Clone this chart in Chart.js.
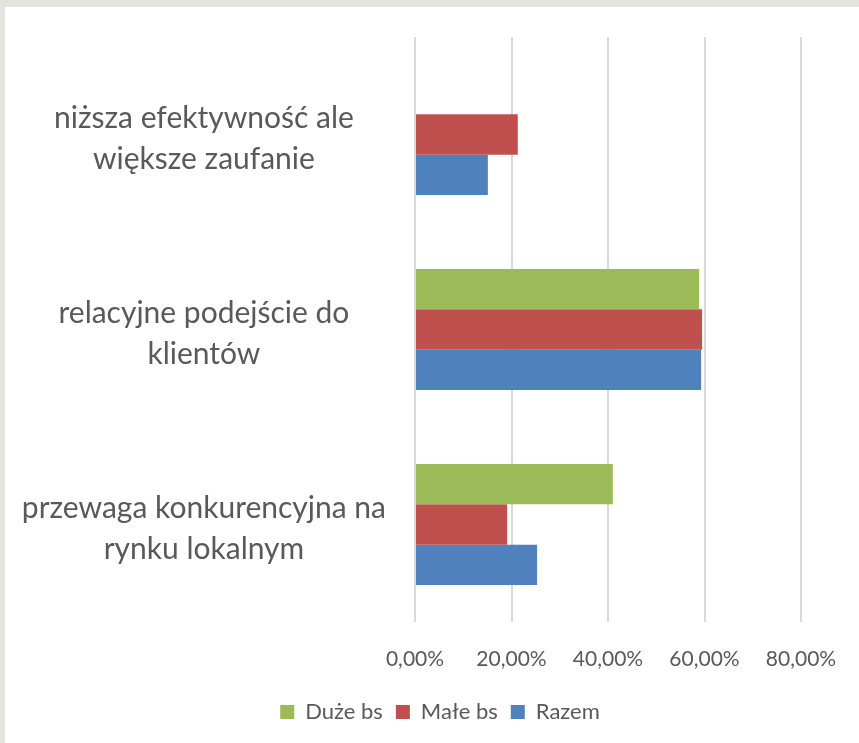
<!DOCTYPE html>
<html>
<head>
<meta charset="utf-8">
<script src="https://cdn.jsdelivr.net/npm/chart.js@4"></script>
<style>
  body { margin: 0; background: #e3e5dc; }
  #wrap { position: absolute; left: 5px; top: 7px; width: 854px; height: 736px; background: #fff; }
</style>
</head>
<body>
<div id="wrap"><canvas id="chart"></canvas></div>
<script>
const categories = [
    ['niższa efektywność ale', 'większe zaufanie'],
    ['relacyjne podejście do', 'klientów'],
    ['przewaga konkurencyjna na', 'rynku lokalnym']
];
const seriesNames = ['Duże bs', 'Małe bs', 'Razem'];
const duzeBs = [0, 58.9, 41.0];
const maleBs = [21.3, 59.5, 19.1];
const razem = [15.1, 59.3, 25.3];
const xTicks = [0, 20, 40, 60, 80];

const colors = ['#9bbb59', '#c0504d', '#4f81bd'];
const textColor = '#595959';

// nudge the legend so it sits where the original one does
const legendShift = {
    id: 'legendShift',
    afterLayout(chart) {
        chart.legend.left += 32;
        chart.legend.right += 32;
    }
};

new Chart(document.getElementById('chart').getContext('2d'), {
    type: 'bar',
    data: {
        labels: categories,
        datasets: [duzeBs, maleBs, razem].map((values, i) => ({
            label: seriesNames[i],
            data: values,
            backgroundColor: colors[i],
            borderWidth: 0,
            barPercentage: 1,
            categoryPercentage: 0.62
        }))
    },
    options: {
        indexAxis: 'y',
        responsive: true,
        maintainAspectRatio: false,
        animation: false,
        layout: { padding: { left: 10, right: 58, top: 30, bottom: 10 } },
        scales: {
            x: {
                min: 0,
                max: 80,
                afterBuildTicks: axis => { axis.ticks = xTicks.map(v => ({ value: v })); },
                afterFit: axis => {
                    axis.height = 66;
                    axis.paddingLeft = 0;
                    axis.paddingRight = 0;
                },
                grid: { color: '#d9d9d9', lineWidth: 2, drawTicks: false },
                border: { display: false },
                ticks: {
                    color: textColor,
                    font: { family: 'Lato', size: 21 },
                    padding: 25,
                    callback: v => v.toFixed(2).replace('.', ',') + '%'
                }
            },
            y: {
                grid: { display: false },
                border: { display: false },
                afterFit: axis => {
                    axis.width = 400;
                    axis.paddingTop = 0;
                    axis.paddingBottom = 0;
                },
                ticks: {
                    color: textColor,
                    crossAlign: 'center',
                    padding: 21,
                    labelOffset: 4,
                    font: { family: 'Lato', size: 30, lineHeight: '41px' }
                }
            }
        },
        plugins: {
            legend: {
                position: 'bottom',
                labels: {
                    color: textColor,
                    boxWidth: 14,
                    boxHeight: 14,
                    padding: 13,
                    font: { family: 'Lato', size: 22 }
                }
            },
            tooltip: { enabled: false }
        }
    },
    plugins: [legendShift]
});
</script>
</body>
</html>
